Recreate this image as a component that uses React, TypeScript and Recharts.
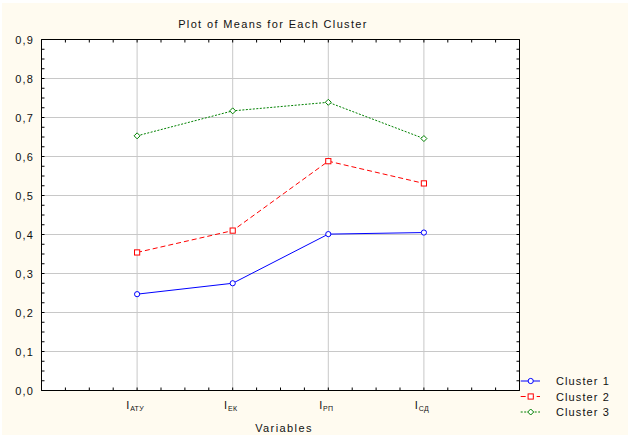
import React from 'react';
import { LineChart, Line, XAxis, YAxis, CartesianGrid, Legend, ReferenceLine } from 'recharts';

// ---- data ----
const categories = ['АТУ', 'ЕК', 'РП', 'СД'];
const xPositions = [1, 2, 3, 4];
const cluster1 = [0.247, 0.275, 0.401, 0.405];
const cluster2 = [0.354, 0.41, 0.588, 0.531];
const cluster3 = [0.653, 0.717, 0.739, 0.646];
const seriesNames = ['Cluster 1', 'Cluster 2', 'Cluster 3'];
const yTicks = [0, 0.1, 0.2, 0.3, 0.4, 0.5, 0.6, 0.7, 0.8, 0.9];
const yTickLabels = ['0,0', '0,1', '0,2', '0,3', '0,4', '0,5', '0,6', '0,7', '0,8', '0,9'];
const titleText = 'Plot of Means for Each Cluster';
const xAxisTitle = 'Variables';

const data = categories.map((c, i) => ({
  pos: xPositions[i],
  cat: c,
  c1: cluster1[i],
  c2: cluster2[i],
  c3: cluster3[i],
}));

// minor tick positions (axis decoration)
const xMinor = Array.from({ length: 21 }, (_, i) => i * 0.25);
const yMinor = Array.from({ length: 37 }, (_, i) => Math.round(i * 25) / 1000);

const FONT = '"Liberation Sans", Arial, sans-serif';
const TICK_LEN = 3;

// layout
const W = 628;
const H = 435;
const PLOT = { left: 41.5, top: 39.5, right: 519.5, bottom: 390.5 };
const X_AXIS_H = 30;
const LEGEND_W = 100;

const seriesStyle = [
  { key: 'c1', name: seriesNames[0], color: '#0000ff', dash: undefined as string | undefined, marker: 'circle' },
  { key: 'c2', name: seriesNames[1], color: '#ff0000', dash: '5 3', marker: 'square' },
  { key: 'c3', name: seriesNames[2], color: '#008000', dash: '2 1.5', marker: 'diamond' },
];

const Marker = ({ cx, cy, type, color }: any) => {
  if (cx == null || cy == null) return null;
  if (type === 'circle') {
    return <circle cx={cx} cy={cy} r={2.6} fill="#fff" stroke={color} strokeWidth={1} />;
  }
  if (type === 'square') {
    return <rect x={cx - 2.6} y={cy - 2.6} width={5.2} height={5.2} fill="#fff" stroke={color} strokeWidth={1} />;
  }
  const r = 3;
  return (
    <polygon
      points={`${cx},${cy - r} ${cx + r},${cy} ${cx},${cy + r} ${cx - r},${cy}`}
      fill="#fff"
      stroke={color}
      strokeWidth={1}
    />
  );
};

// bottom axis: inward minor ticks on bottom & top border, subscripted labels at categories
const XTick = (props: any) => {
  const { x, y, payload } = props;
  const i = xPositions.indexOf(payload.value);
  return (
    <g>
      <line x1={x} y1={y} x2={x} y2={y - TICK_LEN} stroke="#000" strokeWidth={1} />
      <line x1={x} y1={PLOT.top} x2={x} y2={PLOT.top + TICK_LEN} stroke="#000" strokeWidth={1} />
      {i >= 0 && (
        <text x={x - 2} y={y + 18.5} textAnchor="middle" fontFamily={FONT} fill="#111">
          <tspan fontSize={11}>I</tspan>
          <tspan fontSize={7} dy={2} dx={0.8} letterSpacing={0.3}>
            {categories[i]}
          </tspan>
        </text>
      )}
    </g>
  );
};

// left axis: inward minor ticks on left & right border, labels at majors
const YTick = (props: any) => {
  const { x, y, payload } = props;
  const i = yTicks.indexOf(payload.value);
  return (
    <g>
      <line x1={x} y1={y} x2={x + TICK_LEN} y2={y} stroke="#000" strokeWidth={1} />
      <line x1={PLOT.right} y1={y} x2={PLOT.right - TICK_LEN} y2={y} stroke="#000" strokeWidth={1} />
      {i >= 0 && (
        <text x={x - 7.3} y={y + 4.5} textAnchor="end" fontFamily={FONT} fontSize={11} letterSpacing={1.2} fill="#111">
          {yTickLabels[i]}
        </text>
      )}
    </g>
  );
};

const renderLegend = (props: any) => {
  const payload = props.payload || [];
  const rows = seriesStyle.map((s) => {
    const found = payload.find((p: any) => p.value === s.name);
    return { ...s, label: found ? found.value : s.name };
  });
  return (
    <svg width={LEGEND_W} height={48} style={{ display: 'block' }}>
      {rows.map((r, i) => {
        const cy = 9 + i * 15.5;
        return (
          <g key={r.key}>
            <line x1={0.7} y1={cy} x2={20} y2={cy} stroke={r.color} strokeWidth={1} strokeDasharray={r.dash} />
            <Marker cx={10.7} cy={cy} type={r.marker} color={r.color} />
            <text x={36} y={cy + 4} fontFamily={FONT} fontSize={11} letterSpacing={1.1} fill="#111">
              {r.label}
            </text>
          </g>
        );
      })}
    </svg>
  );
};

export default function App() {
  return (
    <div style={{ position: 'absolute', left: 0, top: 0, width: W, height: H, background: '#fff', overflow: 'hidden' }}>
      <div style={{ position: 'absolute', left: 2, top: 3, right: 0, bottom: 0, background: '#fffbf0' }} />
      <div
        style={{
          position: 'absolute',
          left: PLOT.left,
          top: PLOT.top,
          width: PLOT.right - PLOT.left,
          height: PLOT.bottom - PLOT.top,
          background: '#ffffff',
        }}
      />
      <div style={{ position: 'absolute', left: 0, top: 0 }}>
        <LineChart
          width={W}
          height={H}
          data={data}
          margin={{
            top: PLOT.top,
            right: W - PLOT.right - LEGEND_W,
            bottom: H - PLOT.bottom - X_AXIS_H,
            left: 0,
          }}
        >
          <CartesianGrid
            stroke="#c8c8c8"
            fill="none"
            strokeWidth={1}
            verticalValues={xPositions}
            horizontalValues={yTicks}
          />
          <XAxis
            dataKey="pos"
            type="number"
            domain={[0, 5]}
            ticks={xMinor}
            interval={0}
            height={X_AXIS_H}
            axisLine={{ stroke: '#000' }}
            tickLine={false}
            tickSize={0}
            tickMargin={0}
            tick={<XTick />}
            allowDataOverflow
          />
          <YAxis
            type="number"
            domain={[0, 0.9]}
            ticks={yMinor}
            interval={0}
            width={PLOT.left}
            axisLine={{ stroke: '#000' }}
            tickLine={false}
            tickSize={0}
            tickMargin={0}
            tick={<YTick />}
            allowDataOverflow
          />
          <ReferenceLine y={0.9} stroke="#000" strokeWidth={1} />
          <ReferenceLine x={5} stroke="#000" strokeWidth={1} />
          {seriesStyle.map((s) => (
            <Line
              key={s.key}
              type="linear"
              dataKey={s.key}
              name={s.name}
              stroke={s.color}
              strokeWidth={1}
              strokeDasharray={s.dash}
              isAnimationActive={false}
              activeDot={false}
              dot={(p: any) => <Marker key={`${s.key}-${p.index}`} cx={p.cx} cy={p.cy} type={s.marker} color={s.color} />}
            />
          ))}
          <Legend
            layout="vertical"
            align="right"
            verticalAlign="bottom"
            content={renderLegend}
            wrapperStyle={{ left: 520, top: 372, right: 'auto', bottom: 'auto', width: LEGEND_W, height: 48 }}
          />
        </LineChart>
      </div>
      <svg width={W} height={H} style={{ position: 'absolute', left: 0, top: 0, pointerEvents: 'none' }}>
        <text x={273} y={27.5} textAnchor="middle" fontFamily={FONT} fontSize={11} letterSpacing={1.35} fill="#111">
          {titleText}
        </text>
        <text x={284} y={431.5} textAnchor="middle" fontFamily={FONT} fontSize={11} letterSpacing={1.4} fill="#111">
          {xAxisTitle}
        </text>
      </svg>
    </div>
  );
}
